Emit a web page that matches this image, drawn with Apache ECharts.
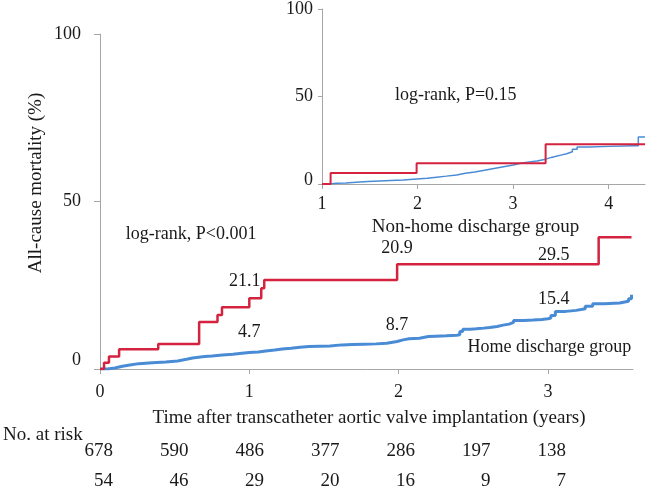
<!DOCTYPE html>
<html>
<head>
<meta charset="utf-8">
<script src="https://cdn.jsdelivr.net/npm/echarts@6/dist/echarts.min.js"></script>
<style>
  html, body { margin: 0; padding: 0; background: #fff; }
  #chart { width: 649px; height: 491px; }
</style>
</head>
<body>
<div id="chart"></div>
<script>
// Main plot: cumulative all-cause mortality (%) by years after TAVI
const mainNonHome = [
  [0, 0], [0.027, 1.9], [0.06, 3.7], [0.128, 5.9], [0.39, 7.5], [0.664, 14.0],
  [0.787, 16.1], [0.817, 18.4], [1.0, 21.1], [1.08, 24.1], [1.1, 26.6],
  [1.99, 31.3], [3.34, 39.3], [3.56, 39.3]
];
const mainHome = [
  [0, 0], [0.05, 0.3], [0.1, 0.8], [0.15, 1.2], [0.2, 1.6], [0.26, 1.9],
  [0.35, 2.1], [0.44, 2.4], [0.52, 2.9], [0.58, 3.3], [0.62, 3.7], [0.7, 3.9],
  [0.75, 4.2], [0.82, 4.4], [0.89, 4.7], [0.95, 4.9], [1.0, 5.1], [1.06, 5.4],
  [1.11, 5.7], [1.17, 6.0], [1.22, 6.2], [1.28, 6.5], [1.34, 6.7], [1.4, 6.8],
  [1.47, 6.9], [1.54, 7.2], [1.62, 7.3], [1.69, 7.4], [1.77, 7.5], [1.85, 7.7],
  [1.92, 8.2], [1.99, 8.7], [2.03, 9.0], [2.07, 9.2], [2.14, 9.7], [2.2, 9.8],
  [2.25, 9.9], [2.32, 10.1], [2.39, 10.2], [2.41, 11.2], [2.43, 11.9], [2.48, 12.0],
  [2.52, 12.2], [2.57, 12.4], [2.61, 12.7], [2.66, 13.1], [2.7, 13.4], [2.74, 13.9],
  [2.77, 14.5], [2.84, 14.6], [2.9, 14.8], [2.96, 15.0], [3.0, 15.2], [3.02, 16.0],
  [3.05, 17.2], [3.12, 17.5], [3.19, 18.0], [3.25, 18.7], [3.3, 19.5], [3.38, 19.7],
  [3.48, 20.2], [3.54, 21.0], [3.56, 22.2]
];

// Inset: landmark from year 1
const insetNonHome = [[1, 0], [1.09, 6.3], [1.99, 11.8], [3.34, 22.7], [4.38, 22.7]];
const insetHome = [
  [1, 0], [1.05, 0.2], [1.1, 0.4], [1.15, 0.6], [1.25, 1.0], [1.36, 1.4],
  [1.48, 1.7], [1.6, 2.0], [1.72, 2.3], [1.85, 2.6], [1.92, 2.9], [1.99, 3.3],
  [2.1, 3.9], [2.2, 4.5], [2.3, 5.2], [2.41, 6.1], [2.5, 6.9], [2.6, 7.8],
  [2.7, 8.8], [2.8, 9.8], [2.9, 10.8], [3.0, 11.8], [3.08, 12.5], [3.15, 13.2],
  [3.25, 14.2], [3.34, 15.2], [3.4, 15.8], [3.45, 16.5], [3.5, 17.3], [3.56, 18.4],
  [3.62, 19.8], [3.67, 21.2], [3.8, 21.5], [4.0, 21.8], [4.28, 21.8], [4.31, 26.9],
  [4.38, 26.9]
];

const mainXTicks = [0, 1, 2, 3];
const insetXTicks = [1, 2, 3, 4];

// Numbers at risk
const riskTimes = [0, 0.5, 1, 1.5, 2, 2.5, 3];
const riskHome = [678, 590, 486, 377, 286, 197, 138];
const riskNonHome = [54, 46, 29, 20, 16, 9, 7];

// Text notes in data coordinates [years, %, text]
const mainNotes = [
  [0.61, 40.3, "log-rank, P<0.001"],
  [0.97, 26.3, "21.1"],
  [1.0, 11.0, "4.7"],
  [1.99, 35.9, "20.9"],
  [3.04, 34.0, "29.5"],
  [1.99, 13.1, "8.7"],
  [3.04, 20.9, "15.4"],
  [3.01, 6.6, "Home discharge group"]
];
const insetNotes = [[2.4, 50.6, "log-rank, P=0.15"]];

const FONT = '"Liberation Serif", "Times New Roman", serif';
const RED = "#d4233f";
const BLUE = "#4a8bd6";
const AXIS = "#a6a6a6";
const TEXT = "#1a1a1a";

const chart = echarts.init(document.getElementById("chart"));

const axisLine = { lineStyle: { color: AXIS, width: 1 } };
const labelStyle = { color: TEXT, fontSize: 18, fontFamily: FONT };

// zero label sits a little above the x axis in the original
const yLabel = (lift) => Object.assign({
  formatter: (v) => (v === 0 ? "{z|0}" : String(v)),
  rich: { z: { color: TEXT, fontSize: 18, fontFamily: FONT, padding: [0, 0, lift, 0] } }
}, labelStyle);

chart.setOption({
  animation: false,
  backgroundColor: "#fff",
  grid: [
    { left: 100, top: 34, right: 16, bottom: 122 },
    { left: 322, top: 8, right: 4, bottom: 307 },
    { left: 113, right: 83, top: 440, height: 1, show: false }
  ],
  xAxis: [
    {
      gridIndex: 0, type: "value", min: 0, max: 3.57, interval: 1,
      axisLine: axisLine,
      axisTick: { length: 5, lineStyle: { color: AXIS }, customValues: mainXTicks },
      axisLabel: Object.assign({ margin: 14, customValues: mainXTicks }, labelStyle),
      splitLine: { show: false }
    },
    {
      gridIndex: 1, type: "value", min: 1, max: 4.38, interval: 1,
      axisLine: axisLine,
      axisTick: { length: 5, lineStyle: { color: AXIS }, customValues: insetXTicks },
      axisLabel: Object.assign({ margin: 11, customValues: insetXTicks }, labelStyle),
      splitLine: { show: false },
      name: "Non-home discharge group",
      nameLocation: "middle",
      nameGap: 34,
      nameTextStyle: { color: TEXT, fontSize: 19, fontFamily: FONT, padding: [0, 16, 0, 0] }
    },
    { gridIndex: 2, type: "value", min: 0, max: 3, show: false }
  ],
  yAxis: [
    {
      gridIndex: 0, type: "value", min: 0, max: 100, interval: 50,
      axisLine: { show: true, lineStyle: { color: AXIS, width: 1 } },
      axisTick: { show: true, length: 6, lineStyle: { color: AXIS } },
      axisLabel: Object.assign({ margin: 19 }, yLabel(18)),
      splitLine: { show: false }
    },
    {
      gridIndex: 1, type: "value", min: 0, max: 100, interval: 50,
      axisLine: { show: true, lineStyle: { color: AXIS, width: 1 } },
      axisTick: { show: true, length: 4, lineStyle: { color: AXIS } },
      axisLabel: Object.assign({ margin: 9 }, yLabel(8)),
      splitLine: { show: false }
    },
    { gridIndex: 2, type: "value", show: false }
  ],
  series: [
    {
      name: "Home", type: "line", xAxisIndex: 0, yAxisIndex: 0, step: "end",
      data: mainHome, showSymbol: false,
      lineStyle: { color: BLUE, width: 3 }, itemStyle: { color: BLUE }
    },
    {
      name: "Non-home", type: "line", xAxisIndex: 0, yAxisIndex: 0, step: "end",
      data: mainNonHome, showSymbol: false,
      lineStyle: { color: RED, width: 2.5 }, itemStyle: { color: RED }
    },
    {
      name: "Home (inset)", type: "line", xAxisIndex: 1, yAxisIndex: 1, step: "end",
      data: insetHome, showSymbol: false,
      lineStyle: { color: BLUE, width: 1.5 }, itemStyle: { color: BLUE }
    },
    {
      name: "Non-home (inset)", type: "line", xAxisIndex: 1, yAxisIndex: 1, step: "end",
      data: insetNonHome, showSymbol: false,
      lineStyle: { color: RED, width: 2 }, itemStyle: { color: RED }
    }
  ]
});

// text placed through the axes' own scales
const txt = (x, y, text, size, align, extra) => Object.assign({
  type: "text", x: x, y: y, silent: true,
  style: { text: text, fill: TEXT, fontSize: size, fontFamily: FONT, align: align, verticalAlign: "middle" }
}, extra || {});

const graphics = [];
mainNotes.forEach(([t, v, s]) => {
  const p = chart.convertToPixel({ xAxisIndex: 0, yAxisIndex: 0 }, [t, v]);
  graphics.push(txt(p[0], p[1], s, 18, "center"));
});
insetNotes.forEach(([t, v, s]) => {
  const p = chart.convertToPixel({ xAxisIndex: 1, yAxisIndex: 1 }, [t, v]);
  graphics.push(txt(p[0], p[1], s, 18, "center"));
});

graphics.push(txt(36, 183, "All-cause mortality (%)", 19, "center", { rotation: Math.PI / 2 }));
graphics.push(txt(369, 418, "Time after transcatheter aortic valve implantation (years)", 19, "center"));
graphics.push(txt(3, 435, "No. at risk", 19, "left"));

riskTimes.forEach((t, i) => {
  const x = chart.convertToPixel({ xAxisIndex: 2 }, t);
  graphics.push(txt(x, 451, String(riskHome[i]), 19, "right"));
  graphics.push(txt(x, 481, String(riskNonHome[i]), 19, "right"));
});

chart.setOption({ graphic: graphics });

window.addEventListener("resize", () => chart.resize());
</script>
</body>
</html>
